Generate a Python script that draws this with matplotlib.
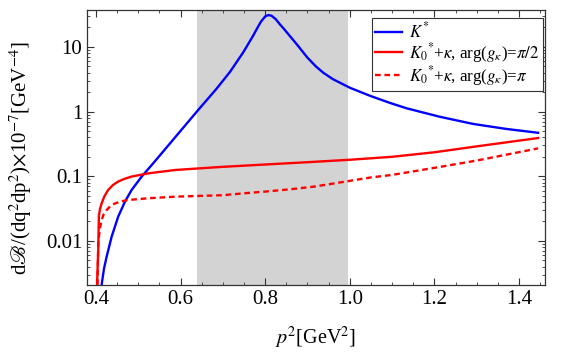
import numpy as np
import matplotlib
matplotlib.use('Agg')
import matplotlib.pyplot as plt
from matplotlib.ticker import MultipleLocator, LogLocator, FixedLocator, NullFormatter

plt.rcParams['font.family'] = ['Liberation Serif', 'DejaVu Serif']
plt.rcParams['mathtext.fontset'] = 'stix'

# K* contribution
p2_kstar = [0.412, 0.4135, 0.419, 0.4253, 0.4371, 0.4527, 0.4686, 0.4844, 0.508, 0.5355,
            0.5631, 0.5986, 0.6418, 0.685, 0.7168, 0.748, 0.7719, 0.780, 0.790, 0.800,
            0.8073, 0.815, 0.825, 0.835, 0.8428, 0.851, 0.8745, 0.90, 0.92, 0.9374, 0.96,
            1.0005, 1.048, 1.095, 1.135, 1.213, 1.291, 1.369, 1.445]
br_kstar = [0.0017, 0.0021, 0.0037, 0.0057, 0.0116, 0.0238, 0.0405, 0.0614, 0.0986, 0.159,
            0.26, 0.49, 1.06, 2.25, 4.1, 8.2, 15.0, 18.8, 24.5, 29.5,
            31.0, 30.3, 26.8, 22.2, 19.5, 16.8, 11.0, 6.8, 4.98, 3.98, 3.17,
            2.33, 1.75, 1.36, 1.12, 0.83, 0.645, 0.54, 0.47]

# K0* + kappa, arg(g_kappa) = pi/2
p2_half = [0.4022, 0.4035, 0.4055, 0.407, 0.4095, 0.4135, 0.420, 0.429, 0.440, 0.4527,
           0.467, 0.4844, 0.5236, 0.5868, 0.70, 0.80, 0.90, 1.0, 1.1, 1.2, 1.3, 1.445]
br_half = [0.0015, 0.003, 0.0072, 0.024, 0.031, 0.038, 0.049, 0.0615, 0.073, 0.083,
           0.091, 0.099, 0.111, 0.125, 0.14, 0.152, 0.165, 0.18, 0.20, 0.235, 0.29, 0.39]

# K0* + kappa, arg(g_kappa) = pi
p2_pi = [0.4035, 0.4055, 0.409, 0.4135, 0.4185, 0.4253, 0.435, 0.445, 0.46, 0.4764,
         0.5236, 0.5868, 0.70, 0.756, 0.80, 0.86, 0.914, 0.96, 1.0, 1.05, 1.1, 1.2,
         1.3, 1.445]
br_pi = [0.0015, 0.009, 0.015, 0.021, 0.026, 0.030, 0.035, 0.038, 0.041, 0.043,
         0.0457, 0.0484, 0.051, 0.055, 0.058, 0.063, 0.069, 0.077, 0.085, 0.096, 0.105, 0.135,
         0.175, 0.27]

band = (0.639, 0.996)

fig = plt.figure(figsize=(5.84, 3.61), dpi=100)
ax = fig.add_axes([0.149, 0.211, 0.784, 0.761])

ax.axvspan(band[0], band[1], color='#d3d3d3', lw=0, zorder=0)
ax.plot(p2_kstar, br_kstar, color='blue', lw=1.7, label=r'$K^{*}$')
ax.plot(p2_half, br_half, color='red', lw=1.7,
        label=r'$K_0{}^{*}$+$\kappa$, arg($g_\kappa$)=$\pi/2$')
ax.plot(p2_pi, br_pi, color='red', lw=1.7, ls=(0, (2.4, 1.6)),
        label=r'$K_0{}^{*}$+$\kappa$, arg($g_\kappa$)=$\pi$')

ax.set_yscale('log')
ax.set_xlim(0.379, 1.461)
ax.set_ylim(0.0021, 37)

ax.xaxis.set_major_locator(MultipleLocator(0.2))
ax.xaxis.set_minor_locator(MultipleLocator(0.05))
ax.xaxis.set_major_formatter(plt.FuncFormatter(lambda v, p: f'{v:.1f}'))
ax.yaxis.set_major_locator(FixedLocator([0.01, 0.1, 1, 10]))
ax.yaxis.set_major_formatter(plt.FuncFormatter(lambda v, p: {0.01: '0.01', 0.1: '0.1', 1: '1', 10: '10'}.get(round(v, 3), '')))
ax.yaxis.set_minor_locator(LogLocator(base=10, subs=np.arange(2, 10), numticks=20))
ax.yaxis.set_minor_formatter(NullFormatter())
ax.tick_params(which='both', direction='in', top=True, right=True, labelsize=15, color='#333333')
ax.tick_params(which='major', length=5, width=0.8)
ax.tick_params(which='minor', length=2.5, width=0.6)
for s in ax.spines.values():
    s.set_color('#333333')
    s.set_linewidth(0.9)

ax.set_xlabel(r'$p^2$[GeV$^2$]', fontsize=14.5, labelpad=12)
ax.set_ylabel(r'd$\mathscr{B}$/(dq$^2$dp$^2$)$\times$10$^{-7}$[GeV$^{-4}$]', fontsize=15)
ax.yaxis.set_label_coords(-0.115, 0.46)

leg = ax.legend(loc='upper right', bbox_to_anchor=(0.9956, 0.971), fontsize=12.2,
                fancybox=False, framealpha=1, edgecolor='#333333', borderaxespad=0,
                handlelength=1.6, labelspacing=-0.05, borderpad=0.2, handletextpad=0.4)
leg.get_frame().set_linewidth(0.8)

fig.savefig('out.png', dpi=100)
